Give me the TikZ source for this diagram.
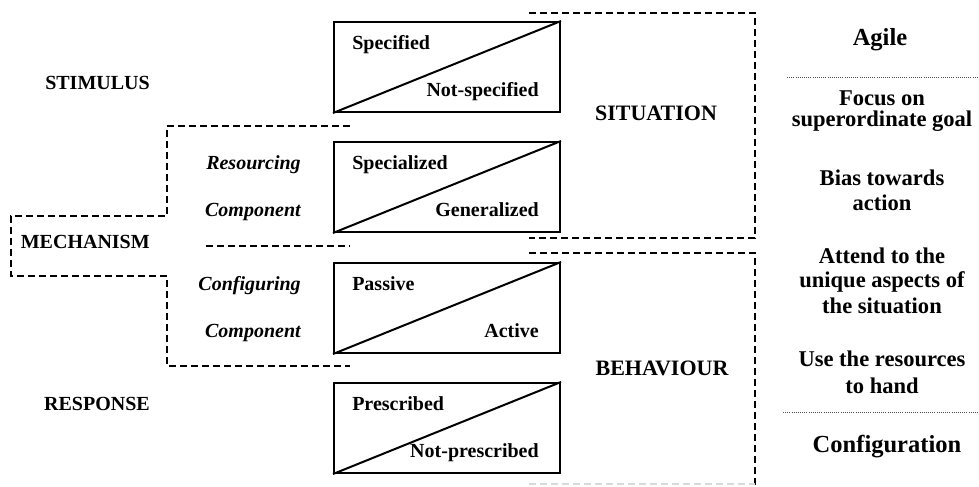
\documentclass[tikz,border=0pt]{standalone}
\usepackage{fontspec}
\setmainfont{Liberation Serif}
\begin{document}
\begin{tikzpicture}[x=0.75pt,y=-0.75pt,
  box/.style={draw,line width=1.5pt,minimum width=169.5pt,minimum height=67.5pt,inner sep=0pt,anchor=north west},
  diag/.style={line width=1.5pt},
  lbl/.style={inner sep=0pt,font=\fontsize{15pt}{18pt}\selectfont\bfseries},
  ilbl/.style={inner sep=0pt,font=\fontsize{15pt}{18pt}\selectfont\bfseries\itshape,anchor=base east},
  big/.style={inner sep=0pt,font=\fontsize{16.5pt}{19pt}\selectfont\bfseries,anchor=base},
  rcol/.style={inner sep=0pt,font=\fontsize{16.9pt}{19pt}\selectfont\bfseries,anchor=base},
  rhead/.style={inner sep=0pt,font=\fontsize{18.4pt}{21pt}\selectfont\bfseries,anchor=base},
  dash line/.style={line width=1pt,dash pattern=on 5.25pt off 3pt},
  dot line/.style={line width=0.6pt,densely dotted,black!70}]
\useasboundingbox (0,0) rectangle (979,486);

% boxes
\node[box] (b1) at (333,21) {};
\node[box] (b2) at (333,141) {};
\node[box] (b3) at (333,262) {};
\node[box] (b4) at (333,382) {};
\foreach \b in {b1,b2,b3,b4} \draw[diag] (\b.south west) -- (\b.north east);

% box texts
\node[lbl,anchor=base west] (t1a) at (352,49) {Specified};
\node[lbl,anchor=base east] (t1b) at (539,96) {Not-specified};
\node[lbl,anchor=base west] (t2a) at (352,169) {Specialized};
\node[lbl,anchor=base east] (t2b) at (539,216) {Generalized};
\node[lbl,anchor=base west] (t3a) at (352,290) {Passive};
\node[lbl,anchor=base east] (t3b) at (539,337) {Active};
\node[lbl,anchor=base west] (t4a) at (352,410) {Prescribed};
\node[lbl,anchor=base east] (t4b) at (539,457) {Not-prescribed};

% italic labels
\node[ilbl] (r1) at (301,169) {Resourcing};
\node[ilbl] (r2) at (301,216) {Component};
\node[ilbl] (c1) at (301,290) {Configuring};
\node[ilbl] (c2) at (301,337) {Component};

% left labels
\node[lbl,anchor=base east] (stim) at (150,89) {STIMULUS};
\node[lbl,anchor=base east] (mech) at (150,248) {MECHANISM};
\node[lbl,anchor=base east] (resp) at (150,410) {RESPONSE};

% situation / behaviour
\node[big] (sit) at (656,120) {SITUATION};
\node[big] (beh) at (662,375) {BEHAVIOUR};

% dashed outlines
\draw[dash line] (350,126) -- (167,126) -- (167,216) -- (11,216) -- (11,276) -- (167,276) -- (167,366) -- (350,366);
\draw[dash line] (206,246) -- (350,246);
\draw[dash line] (529,13) -- (755,13) -- (755,238) -- (529,238);
\draw[dash line] (529,253) -- (755,253) -- (755,486);
\draw[dash line,black!15] (529,484) -- (755,484);

% right column
\node[rhead] (agile) at (880,45) {Agile};
\coordinate (d1a) at (787,77);
\coordinate (d1b) at (979,77);
\draw[dot line] (d1a) -- (d1b);
\node[rcol] (f1) at (882,105) {Focus on};
\node[rcol] (f2) at (882,126) {superordinate goal};
\node[rcol] (g1) at (882,185) {Bias towards};
\node[rcol] (g2) at (882,210) {action};
\node[rcol] (h1) at (882,263) {Attend to the};
\node[rcol] (h2) at (882,287) {unique aspects of};
\node[rcol] (h3) at (882,313) {the situation};
\node[rcol] (k1) at (882,366) {Use the resources};
\node[rcol] (k2) at (882,393) {to hand};
\coordinate (d2a) at (783,412);
\coordinate (d2b) at (979,412);
\draw[dot line] (d2a) -- (d2b);
\node[rhead] (conf) at (887,452) {Configuration};
\end{tikzpicture}
\end{document}
